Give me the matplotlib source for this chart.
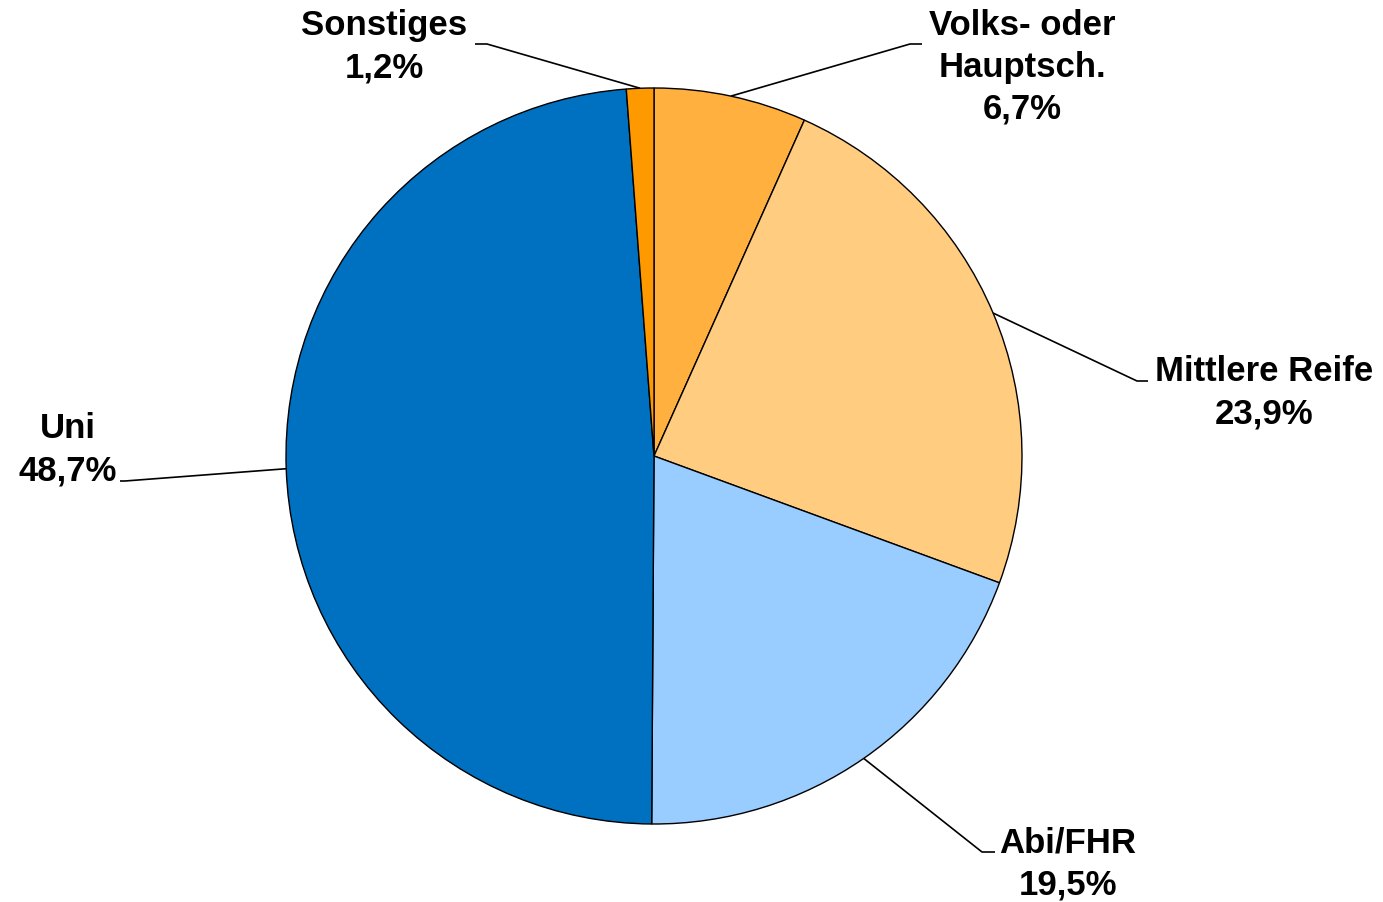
import numpy as np
import matplotlib
matplotlib.use('Agg')
from matplotlib import pyplot as plt

labels = ['Volks- oder\nHauptsch.', 'Mittlere Reife', 'Abi/FHR', 'Uni', 'Sonstiges']
values = [6.7, 23.9, 19.5, 48.7, 1.2]
colors = ['#FFB03F', '#FFCC80', '#99CCFF', '#0070C0', '#FF9900']

# layout (pixel coords, y from top)
W, H = 1383, 902
cx, cy, r = 654, 456, 368
# label centre x and y of first line; knee/end of leader line
label_pos = [(1022, 26), (1264, 372), (1068, 843), (68, 429), (384, 26)]
knees = [((910, 44), (922, 44)),
         ((1137, 381), (1148, 381)),
         ((982, 852), (995, 852)),
         ((125, 481), (120, 481)),
         ((487, 44), (475, 44))]

plt.rcParams['font.family'] = ['Liberation Sans', 'DejaVu Sans']

fig = plt.figure(figsize=(W / 100, H / 100), dpi=100)
ax = fig.add_axes([0, 0, 1, 1])

wedges, _ = ax.pie(values, colors=colors, startangle=90, counterclock=False,
                   center=(cx, H - cy), radius=r,
                   wedgeprops=dict(edgecolor='black', linewidth=1.0))
ax.set_xlim(0, W)
ax.set_ylim(0, H)
ax.set_aspect('equal')
ax.axis('off')

for i, w in enumerate(wedges):
    ang = np.deg2rad((w.theta1 + w.theta2) / 2)
    x0 = cx + r * np.cos(ang)
    y0 = (H - cy) + r * np.sin(ang)
    (kx, ky), (ex, ey) = knees[i]
    ax.plot([x0, kx, ex], [y0, H - ky, H - ey], color='black', lw=1.2,
            solid_capstyle='butt', zorder=3)
    pct = ('%.1f%%' % values[i]).replace('.', ',')
    lx, ly = label_pos[i]
    n = labels[i].count('\n') + 2
    ax.text(lx, H - ly - (n - 1) * 41.5 / 2, labels[i] + '\n' + pct,
            ha='center', va='center', fontsize=25, fontweight='bold',
            linespacing=1.33)

fig.savefig('out.png', dpi=100)
